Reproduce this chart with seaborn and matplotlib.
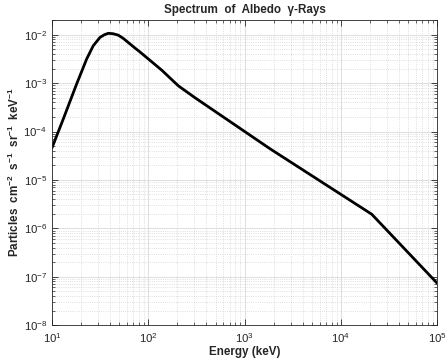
import matplotlib
matplotlib.use("Agg")
import matplotlib.pyplot as plt
import seaborn as sns
import pandas as pd
from matplotlib.ticker import LogLocator, NullFormatter

energy_kev = [10, 13.1, 18.0, 22.9, 26.8, 31.5, 35.0, 38.5, 43.0, 48.8, 55.0, 62.0,
              72.0, 82.0, 92.5, 138, 205, 305, 1836, 20900, 100000]
flux = [4.6e-5, 1.81e-4, 9.5e-4, 3.14e-3, 5.9e-3, 8.8e-3, 1.0e-2, 1.07e-2, 1.05e-2,
        9.8e-3, 8.4e-3, 6.9e-3, 5.4e-3, 4.4e-3, 3.6e-3, 1.85e-3, 8.8e-4, 5.0e-4,
        4.4e-5, 1.95e-6, 7.3e-8]

title_text = "Spectrum  of  Albedo  γ-Rays"
xlabel_text = "Energy (keV)"
ylabel_text = (r"Particles  cm$^{\mathbf{-2}}$  s$^{\mathbf{-1}}$  "
               r"sr$^{\mathbf{-1}}$  keV$^{\mathbf{-1}}$")

df = pd.DataFrame({"Energy": energy_kev, "Flux": flux})

sns.set_theme(style="ticks")
plt.rcParams["font.family"] = ["Liberation Sans", "DejaVu Sans"]
plt.rcParams["mathtext.fontset"] = "custom"
plt.rcParams["mathtext.rm"] = "Liberation Sans"
plt.rcParams["mathtext.it"] = "Liberation Sans:italic"
plt.rcParams["mathtext.bf"] = "Liberation Sans:bold"
plt.rcParams["axes.unicode_minus"] = False

fig = plt.figure(figsize=(4.48, 3.6), dpi=100)
ax = fig.add_axes([0.116, 0.097, 0.86, 0.847])

sns.lineplot(data=df, x="Energy", y="Flux", ax=ax, color="black", linewidth=2.0,
             estimator=None, sort=False)

ax.set_xscale("log")
ax.set_yscale("log")
ax.set_xlim(10, 1e5)
ax.set_ylim(1e-8, 2e-2)

ax.xaxis.set_major_locator(LogLocator(base=10, numticks=10))
ax.yaxis.set_major_locator(LogLocator(base=10, numticks=10))
ax.xaxis.set_minor_locator(LogLocator(base=10, subs=range(2, 10), numticks=20))
ax.yaxis.set_minor_locator(LogLocator(base=10, subs=range(2, 10), numticks=20))
ax.xaxis.set_minor_formatter(NullFormatter())
ax.yaxis.set_minor_formatter(NullFormatter())

ax.grid(which="major", color="#d9d9d9", linewidth=0.6, linestyle="-")
ax.grid(which="minor", color="#d4d4d4", linewidth=0.6, linestyle=":")
ax.set_axisbelow(True)

ax.tick_params(which="both", direction="in", top=True, right=True,
               labelsize=8.2, colors="#262626")
ax.tick_params(which="major", length=4, width=0.6)
ax.tick_params(which="minor", length=2, width=0.5)
ax.tick_params(axis="x", which="major", pad=4.5)
for s in ax.spines.values():
    s.set_linewidth(0.6)
    s.set_color("#262626")

ax.set_title(title_text, fontsize=8.4, fontweight="bold", pad=5)
ax.set_xlabel(xlabel_text, fontsize=8.4, fontweight="bold", labelpad=0.5)
ax.set_ylabel(ylabel_text, fontsize=8.4, fontweight="bold", labelpad=1)

fig.savefig("out.png", dpi=100)
